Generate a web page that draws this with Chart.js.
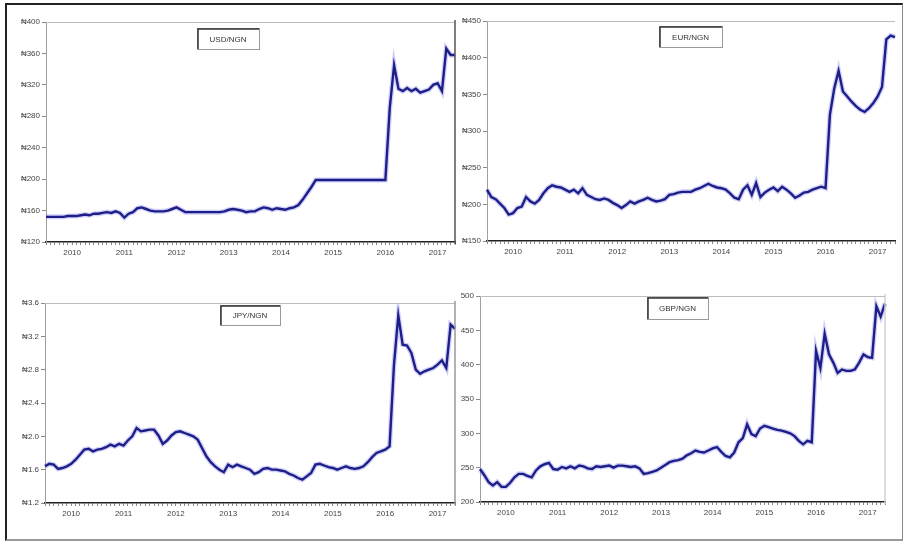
<!DOCTYPE html>
<html>
<head>
<meta charset="utf-8">
<script src="https://cdn.jsdelivr.net/npm/chart.js@4/dist/chart.umd.min.js"></script>
<style>
  html, body { margin: 0; padding: 0; background: #fff; }
  #page { position: relative; width: 907px; height: 545px; overflow: hidden; background: #fff; }
  #frame { position: absolute; left: 5px; top: 3px; width: 898px; height: 538px;
           border-left: 2px solid #222; border-top: 2px solid #222;
           border-right: 1px solid #888; border-bottom: 2px solid #999; box-sizing: border-box; }
  canvas { position: absolute; left: 0; top: 0; }
</style>
</head>
<body>
<div id="page">
  <div id="frame"></div>
  <canvas id="cUsd" width="907" height="545"></canvas>
  <canvas id="cEur" width="907" height="545"></canvas>
  <canvas id="cJpy" width="907" height="545"></canvas>
  <canvas id="cGbp" width="907" height="545"></canvas>
</div>
<script>
// Monthly naira exchange rates, Jan 2010 – Nov 2017
const yearLabels = ['2010', '2011', '2012', '2013', '2014', '2015', '2016', '2017'];
const monthCount = 95;

const usdNgn = [
  152, 152, 152, 152, 152, 153, 153, 153, 154,
  155, 154, 156, 156, 157, 158, 157, 159, 157, 151, 156, 158,
  163, 164, 162, 160, 159, 159, 159, 160, 162, 164, 161, 158,
  158, 158, 158, 158, 158, 158, 158, 158, 159, 161, 162, 161, 160,
  158, 159, 159, 162, 164, 163, 161, 163, 162, 161, 163, 164, 167,
  174, 182, 190, 199,
  199, 199, 199, 199, 199, 199, 199, 199, 199, 199, 199, 199, 199, 199, 199, 199,
  290, 345, 315, 312, 316, 312, 315, 310, 312, 314, 320, 322, 312, 366, 358, 358
];

const eurNgn = [
  220, 210, 207, 201, 195, 186, 188, 195, 197, 210, 204, 201,
  206, 215, 222, 226, 224, 223, 220, 217, 220, 215, 222, 213,
  210, 207, 206, 208, 206, 202, 199, 195, 199, 204, 201, 204,
  206, 209, 206, 204, 205, 207, 213, 214, 216, 217, 217, 217,
  220, 222, 225, 228, 225, 223, 222, 220, 215, 209, 207, 220,
  226, 213, 229, 210, 216, 220, 223, 218, 224, 220, 215, 209,
  212, 216, 217, 220, 222, 224, 222, 322, 358, 382, 354, 347,
  340, 334, 329, 326, 331, 338, 347, 360, 425, 430, 428
];

const jpyNgn = [
  1.64, 1.67, 1.66, 1.61, 1.62, 1.64, 1.67, 1.72, 1.78, 1.84, 1.85, 1.82,
  1.84, 1.85, 1.87, 1.90, 1.88, 1.91, 1.89, 1.95, 2.00, 2.10, 2.06, 2.07,
  2.08, 2.08, 2.01, 1.91, 1.95, 2.01, 2.05, 2.06, 2.04, 2.02, 2.00, 1.96,
  1.86, 1.76, 1.69, 1.64, 1.60, 1.57, 1.66, 1.63, 1.66, 1.64, 1.62, 1.60,
  1.55, 1.57, 1.61, 1.62, 1.60, 1.60, 1.59, 1.58, 1.55, 1.53, 1.50, 1.48,
  1.52, 1.56, 1.66, 1.67, 1.65, 1.63, 1.62, 1.60, 1.62, 1.64, 1.62, 1.61,
  1.62, 1.64, 1.69, 1.75, 1.80, 1.82, 1.84, 1.88, 2.85, 3.45, 3.10, 3.09,
  3.00, 2.80, 2.75, 2.78, 2.80, 2.82, 2.86, 2.91, 2.82, 3.34, 3.29
];

const gbpNgn = [
  248, 239, 229, 224, 229, 222, 222, 228, 236, 241, 241, 238,
  236, 246, 252, 255, 257, 248, 247, 251, 249, 252, 249, 253,
  252, 249, 248, 252, 251, 252, 253, 250, 253, 253, 252, 251,
  252, 249, 241, 242, 244, 246, 250, 254, 258, 260, 261, 263,
  268, 271, 275, 273, 272, 275, 278, 280, 273, 267, 265, 272,
  287, 293, 313, 299, 296, 307, 311, 309, 307, 305, 304, 302,
  300, 296, 289, 284, 289, 287, 420, 395, 445, 415, 403, 388,
  393, 391, 391, 393, 403, 415, 411, 410, 485, 470, 489
];

// y-axis tick ranges
const usdTicks = { min: 120, max: 400, step: 40 };
const eurTicks = { min: 150, max: 450, step: 50 };
const jpyTicks = { min: 1.2, max: 3.6, step: 0.4 };
const gbpTicks = { min: 200, max: 500, step: 50 };

// month labels "YYYY-MM"
const months = [];
for (const y of yearLabels) {
  for (let m = 1; m <= 12; m++) {
    if (months.length < monthCount) months.push(y + '-' + String(m).padStart(2, '0'));
  }
}

const W = 907, H = 545, Y_W = 40, X_H = 22;
const FONT = 'Liberation Sans, Arial, sans-serif';

// thin top/right border of each plot plus the series name box
const panelDeco = {
  id: 'panelDeco',
  afterDraw(chart, args, opts) {
    const { ctx, chartArea: a } = chart;
    ctx.save();
    ctx.strokeStyle = '#bdbdbd';
    ctx.lineWidth = 1;
    ctx.beginPath();
    ctx.moveTo(a.left, a.top + 0.5);
    ctx.lineTo(a.right, a.top + 0.5);
    ctx.stroke();
    if (opts.rightLine) {
      ctx.strokeStyle = opts.rightLine;
      ctx.lineWidth = 1.5;
      ctx.beginPath();
      ctx.moveTo(a.right, a.top - 2);
      ctx.lineTo(a.right, a.bottom + 2);
      ctx.stroke();
    }
    const b = opts.box;
    ctx.fillStyle = '#fff';
    ctx.fillRect(b.x, b.y, b.w, b.h);
    ctx.strokeStyle = '#9a9a9a';
    ctx.lineWidth = 1;
    ctx.strokeRect(b.x + 0.5, b.y + 0.5, b.w, b.h);
    ctx.strokeStyle = '#333';
    ctx.lineWidth = 1.5;
    ctx.beginPath();
    ctx.moveTo(b.x + 1, b.y + b.h);
    ctx.lineTo(b.x + 1, b.y + 1);
    ctx.lineTo(b.x + b.w, b.y + 1);
    ctx.stroke();
    ctx.fillStyle = '#333';
    ctx.font = '8px ' + FONT;
    ctx.textAlign = 'center';
    ctx.textBaseline = 'middle';
    ctx.fillText(opts.text, b.x + b.w / 2, b.y + b.h / 2 + 1);
    ctx.restore();
  }
};

function makePanel(canvasId, name, values, ticks, area, box, fmt, rightLine) {
  new Chart(document.getElementById(canvasId), {
    type: 'line',
    data: {
      labels: months,
      datasets: [
        { data: values, borderColor: '#1e1e88', borderWidth: 2.4, pointRadius: 0, tension: 0, order: 1 },
        { data: values, borderColor: 'rgba(90, 90, 230, 0.28)', borderWidth: 5, pointRadius: 0, tension: 0, order: 2 }
      ]
    },
    options: {
      responsive: false,
      animation: false,
      events: [],
      layout: {
        padding: {
          left: area.left - Y_W,
          top: area.top,
          right: W - area.right,
          bottom: H - area.bottom - X_H
        }
      },
      plugins: {
        legend: { display: false },
        tooltip: { enabled: false },
        panelDeco: { text: name, box: box, rightLine: rightLine }
      },
      scales: {
        x: {
          type: 'category',
          afterFit(s) { s.height = X_H; },
          border: { color: '#222', width: 1.5 },
          grid: { drawOnChartArea: false, drawTicks: true, tickLength: 3, color: '#8a8a8a' },
          ticks: {
            autoSkip: false, maxRotation: 0, minRotation: 0, padding: 3,
            color: '#444', font: { family: FONT, size: 8 },
            callback: (v, i) => months[i].endsWith('-07') ? months[i].slice(0, 4) : ''
          }
        },
        y: {
          min: ticks.min, max: ticks.max,
          afterFit(s) { s.width = Y_W; },
          border: { color: '#a0a0a0', width: 1 },
          grid: { drawOnChartArea: false, drawTicks: true, tickLength: 4, color: '#8a8a8a' },
          ticks: {
            stepSize: ticks.step, padding: 2,
            color: '#444', font: { family: FONT, size: 8 },
            callback: fmt
          }
        }
      }
    },
    plugins: [panelDeco]
  });
}

const naira = v => '\u20A6' + Math.round(v);

makePanel('cUsd', 'USD/NGN', usdNgn, usdTicks,
  { left: 46, right: 455, top: 22, bottom: 242 },
  { x: 197, y: 28, w: 62, h: 21 }, naira, '#555');
makePanel('cEur', 'EUR/NGN', eurNgn, eurTicks,
  { left: 487, right: 895, top: 21, bottom: 241 },
  { x: 659, y: 26, w: 63, h: 21 }, naira, null);
makePanel('cJpy', 'JPY/NGN', jpyNgn, jpyTicks,
  { left: 45, right: 455, top: 303, bottom: 503 },
  { x: 220, y: 305, w: 60, h: 20 }, v => '\u20A6' + v.toFixed(1), '#999');
makePanel('cGbp', 'GBP/NGN', gbpNgn, gbpTicks,
  { left: 480, right: 885, top: 296, bottom: 502 },
  { x: 647, y: 297, w: 61, h: 22 }, v => String(Math.round(v)), '#d0d0d0');
</script>
</body>
</html>
